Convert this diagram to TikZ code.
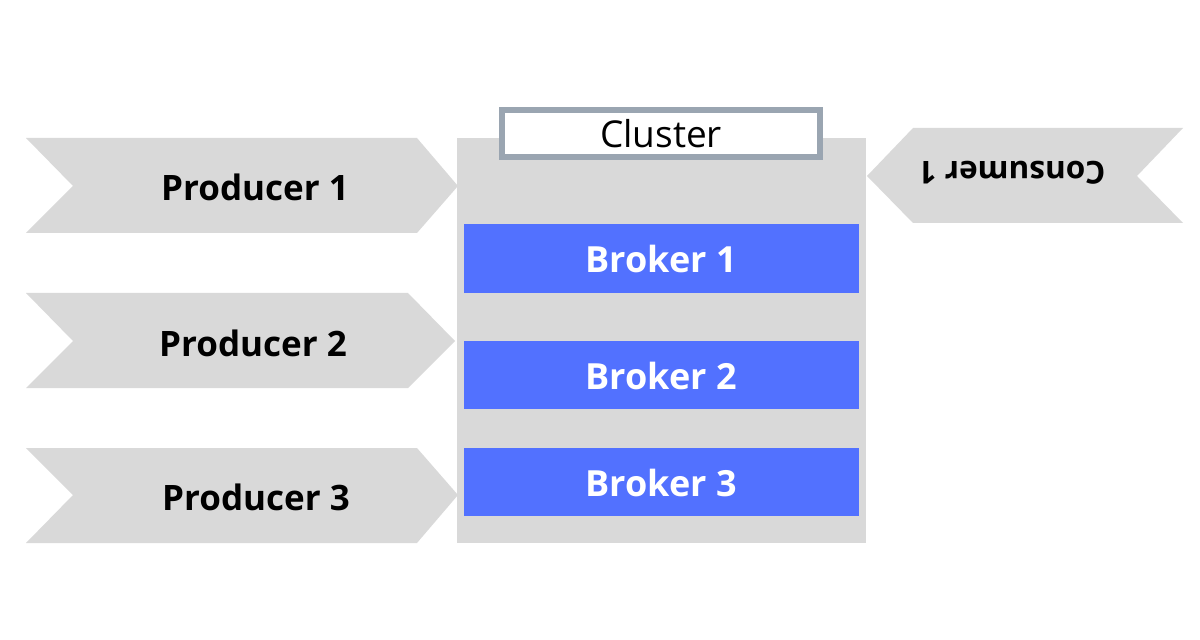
\documentclass[tikz,border=0pt]{standalone}
\usepackage{fontspec}
\setmainfont{Open Sans}
\usepackage{xcolor}
\definecolor{chevronColorA}{HTML}{D9D9D9}
\definecolor{chevronColorB}{HTML}{D9D9D9}
\definecolor{chevronColorC}{HTML}{D9D9D9}
\definecolor{chevronColorD}{HTML}{D9D9D9}
\definecolor{clusterBgColor}{HTML}{D9D9D9}
\definecolor{clusterLineColor}{HTML}{9AA5B1}
\definecolor{brokerBgColor}{HTML}{5271FF}
\definecolor{brokerTextColor}{HTML}{FFFFFF}
\def\textA{Producer 1}
\def\textB{Producer 2}
\def\textC{Producer 3}
\def\textD{Consumer 1}
\def\textE{Broker 1}
\def\textF{Broker 2}
\def\textG{Broker 3}
\def\textH{Cluster}
\tikzset{
  prodfont/.style={font=\fontsize{35bp}{40bp}\selectfont\bfseries, inner sep=0pt},
  consfont/.style={font=\fontsize{31.5bp}{40bp}\selectfont\bfseries, inner sep=0pt},
  brokerfont/.style={font=\fontsize{36bp}{40bp}\selectfont\bfseries, inner sep=0pt},
  clusterfont/.style={font=\fontsize{37bp}{40bp}\selectfont, inner sep=0pt}
}

\begin{document}
\begin{tikzpicture}[x=1bp,y=-1bp]
\useasboundingbox (0, 0) rectangle (1200, 640);

% cluster layer
\begin{scope}
\fill[color=clusterBgColor] (457, 138) rectangle (866, 543);
\end{scope}

% producer layer
\begin{scope}[shift={(26, 138)}]
\fill[color=chevronColorA] (0, 0) -- (391, 0) -- (432, 48) -- (391, 95)
-- (0, 95) -- (47, 48) -- cycle;
\node[prodfont] (prodA) at (229, 49) {\textA};
\end{scope}
\begin{scope}[shift={(26, 293)}]
\fill[color=chevronColorB] (0, 0) -- (382, 0) -- (429, 48) -- (382, 95)
-- (0, 95) -- (47, 48) -- cycle;
\node[prodfont] (prodB) at (227, 50) {\textB};
\end{scope}
\begin{scope}[shift={(26, 448)}]
\fill[color=chevronColorC] (0, 0) -- (391, 0) -- (432, 47) -- (391, 95)
-- (0, 95) -- (47, 47) -- cycle;
\node[prodfont] (prodC) at (230, 49) {\textC};
\end{scope}

% consumer layer
\begin{scope}[shift={(867, 128)}]
\fill[color=chevronColorD] (0, 48) -- (46, 0) -- (316, 0) -- (270, 48)
-- (316, 95) -- (46, 95) -- cycle;
\node[consfont, rotate=180] (consA) at (145, 45) {\textD};
\end{scope}

% label layer
\begin{scope}
\draw[color=clusterLineColor, line width=6bp, fill=white]
(502, 110) rectangle (820, 157);
\node[clusterfont] (clusterLabel) at (661, 134) {\textH};
\end{scope}

% broker layer
\begin{scope}
\fill[color=brokerBgColor] (464, 224) rectangle (859, 293);
\node[brokerfont, text=brokerTextColor] (brokerA) at (661, 259) {\textE};
\fill[color=brokerBgColor] (464, 341) rectangle (859, 409);
\node[brokerfont, text=brokerTextColor] (brokerB) at (661, 376) {\textF};
\fill[color=brokerBgColor] (464, 448) rectangle (859, 516);
\node[brokerfont, text=brokerTextColor] (brokerC) at (661, 483) {\textG};
\end{scope}

\end{tikzpicture}
\end{document}
